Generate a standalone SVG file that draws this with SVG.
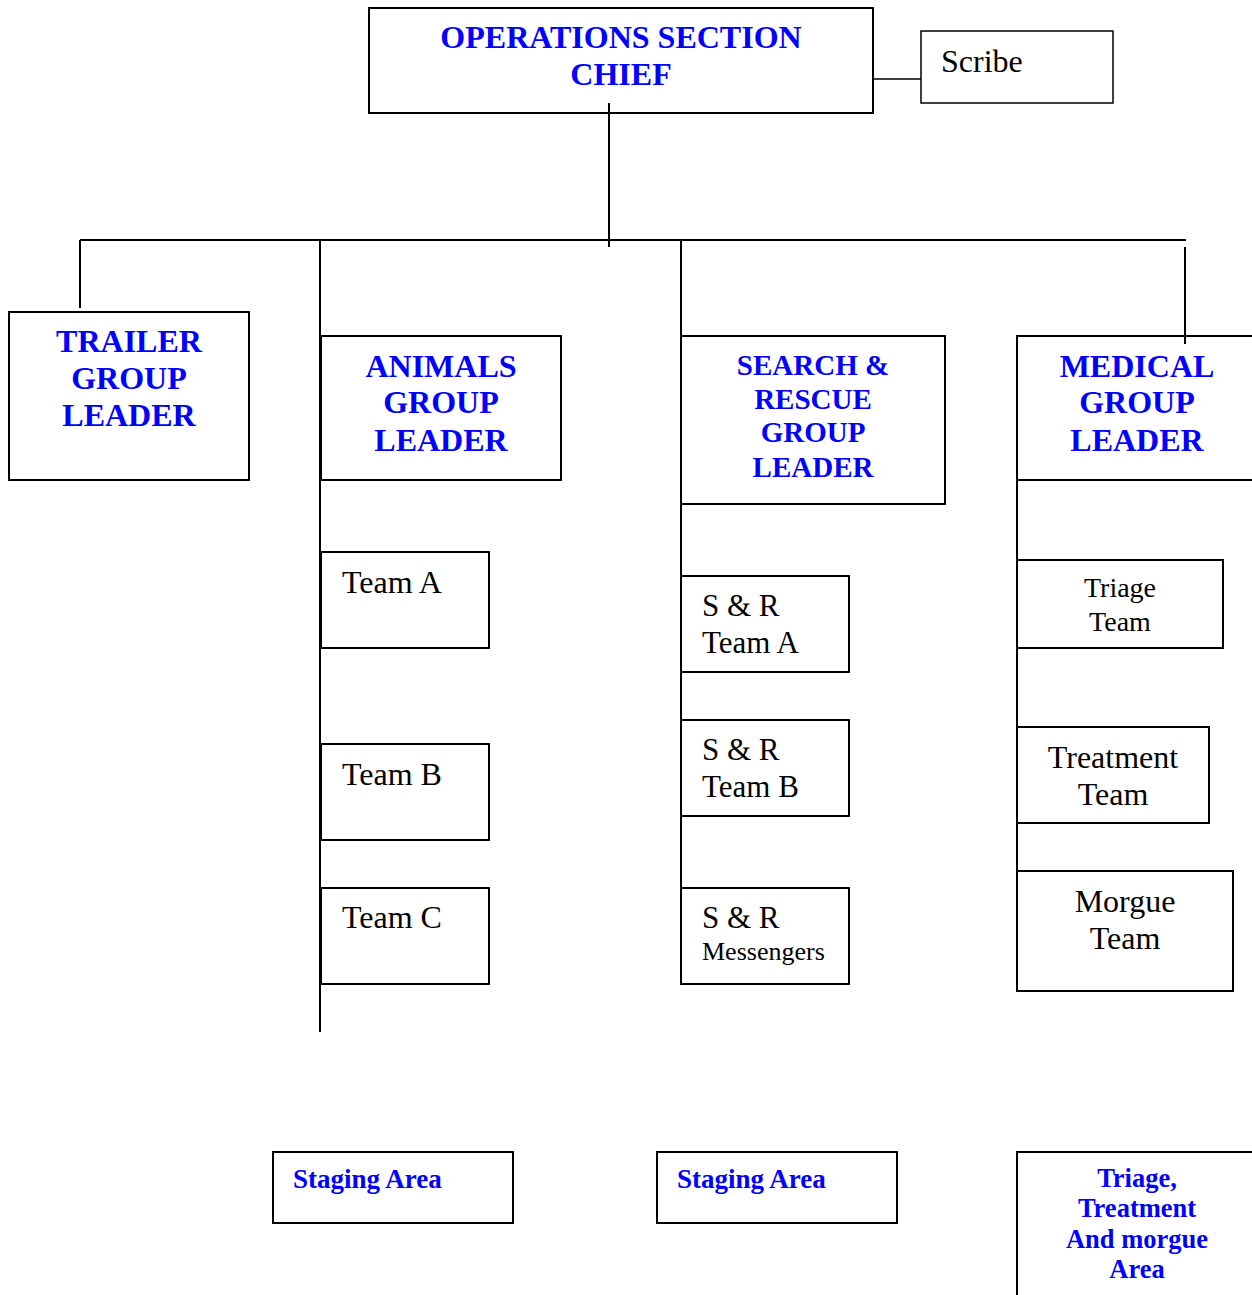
<svg xmlns="http://www.w3.org/2000/svg" width="1252" height="1295" viewBox="0 0 1252 1295">
<style>
  .box{fill:#fff;stroke:#000;stroke-width:2}
  .thin{fill:#fff;stroke:#000;stroke-width:1.5}
  .ln{stroke:#000;stroke-width:2;fill:none}
  .hd{font-family:"Liberation Serif","Times New Roman",serif;font-weight:bold;fill:#0000FF;text-anchor:middle}
  .bl{font-family:"Liberation Serif","Times New Roman",serif;font-weight:bold;fill:#0000FF}
  .tx{font-family:"Liberation Serif","Times New Roman",serif;fill:#000}
  .c{text-anchor:middle}
</style>
<rect width="1252" height="1295" fill="#fff"/>
<g id="ops-chief">
  <rect class="box" x="369" y="8" width="504" height="105"/>
  <text class="hd" x="621" y="48" font-size="32">OPERATIONS SECTION</text>
  <text class="hd" x="621" y="85" font-size="32">CHIEF</text>
</g>
<g id="scribe">
  <rect class="thin" x="921" y="31" width="192" height="72"/>
  <text class="tx" x="941" y="72" font-size="32">Scribe</text>
</g>
<g id="trailer">
  <rect class="box" x="9" y="312" width="240" height="168"/>
  <text class="hd" x="129" y="352" font-size="32">TRAILER</text>
  <text class="hd" x="129" y="389" font-size="32">GROUP</text>
  <text class="hd" x="129" y="426" font-size="32">LEADER</text>
</g>
<g id="animals">
  <rect class="box" x="321" y="336" width="240" height="144"/>
  <text class="hd" x="441" y="377" font-size="32">ANIMALS</text>
  <text class="hd" x="441" y="413" font-size="32">GROUP</text>
  <text class="hd" x="441" y="451" font-size="32">LEADER</text>
</g>
<g id="search-rescue">
  <rect class="box" x="681" y="336" width="264" height="168"/>
  <text class="hd" x="813" y="375" font-size="29">SEARCH &amp;</text>
  <text class="hd" x="813" y="409" font-size="29">RESCUE</text>
  <text class="hd" x="813" y="442" font-size="29">GROUP</text>
  <text class="hd" x="813" y="477" font-size="29">LEADER</text>
</g>
<g id="medical">
  <rect class="box" x="1017" y="336" width="245" height="144"/>
  <text class="hd" x="1137" y="377" font-size="32">MEDICAL</text>
  <text class="hd" x="1137" y="413" font-size="32">GROUP</text>
  <text class="hd" x="1137" y="451" font-size="32">LEADER</text>
</g>
<g id="team-a">
  <rect class="box" x="321" y="552" width="168" height="96"/>
  <text class="tx" x="342" y="593" font-size="32">Team A</text>
</g>
<g id="team-b">
  <rect class="box" x="321" y="744" width="168" height="96"/>
  <text class="tx" x="342" y="785" font-size="32">Team B</text>
</g>
<g id="team-c">
  <rect class="box" x="321" y="888" width="168" height="96"/>
  <text class="tx" x="342" y="928" font-size="32">Team C</text>
</g>
<g id="sr-team-a">
  <rect class="box" x="681" y="576" width="168" height="96"/>
  <text class="tx" x="702" y="616" font-size="31">S &amp; R</text>
  <text class="tx" x="702" y="653" font-size="31">Team A</text>
</g>
<g id="sr-team-b">
  <rect class="box" x="681" y="720" width="168" height="96"/>
  <text class="tx" x="702" y="760" font-size="31">S &amp; R</text>
  <text class="tx" x="702" y="797" font-size="31">Team B</text>
</g>
<g id="sr-messengers">
  <rect class="box" x="681" y="888" width="168" height="96"/>
  <text class="tx" x="702" y="928" font-size="31">S &amp; R</text>
  <text class="tx" x="702" y="960" font-size="26">Messengers</text>
</g>
<g id="triage-team">
  <rect class="box" x="1017" y="560" width="206" height="88"/>
  <text class="tx c" x="1120" y="597" font-size="28">Triage</text>
  <text class="tx c" x="1120" y="631" font-size="28">Team</text>
</g>
<g id="treatment-team">
  <rect class="box" x="1017" y="727" width="192" height="96"/>
  <text class="tx c" x="1113" y="768" font-size="32">Treatment</text>
  <text class="tx c" x="1113" y="805" font-size="32">Team</text>
</g>
<g id="morgue-team">
  <rect class="box" x="1017" y="871" width="216" height="120"/>
  <text class="tx c" x="1125" y="912" font-size="32">Morgue</text>
  <text class="tx c" x="1125" y="949" font-size="32">Team</text>
</g>
<g id="staging-1">
  <rect class="box" x="273" y="1152" width="240" height="71"/>
  <text class="bl" x="293" y="1188" font-size="27">Staging Area</text>
</g>
<g id="staging-2">
  <rect class="box" x="657" y="1152" width="240" height="71"/>
  <text class="bl" x="677" y="1188" font-size="27">Staging Area</text>
</g>
<g id="triage-area">
  <rect class="box" x="1017" y="1152" width="245" height="160"/>
  <text class="hd" x="1137" y="1187" font-size="26.5">Triage,</text>
  <text class="hd" x="1137" y="1217" font-size="26.5">Treatment</text>
  <text class="hd" x="1137" y="1248" font-size="26.5">And morgue</text>
  <text class="hd" x="1137" y="1278" font-size="26.5">Area</text>
</g>
<g id="connectors">
  <line class="ln" x1="609" y1="103" x2="609" y2="247"/>
  <line class="ln" x1="80" y1="240" x2="1186" y2="240"/>
  <line class="ln" x1="80" y1="240" x2="80" y2="308"/>
  <line class="ln" x1="320" y1="240" x2="320" y2="1032"/>
  <line class="ln" x1="681" y1="240" x2="681" y2="984"/>
  <line class="ln" x1="1185" y1="247" x2="1185" y2="344"/>
  <line class="ln" x1="1017" y1="480" x2="1017" y2="991"/>
  <line stroke="#000" stroke-width="1.5" x1="873" y1="79" x2="921" y2="79"/>
</g>
</svg>
